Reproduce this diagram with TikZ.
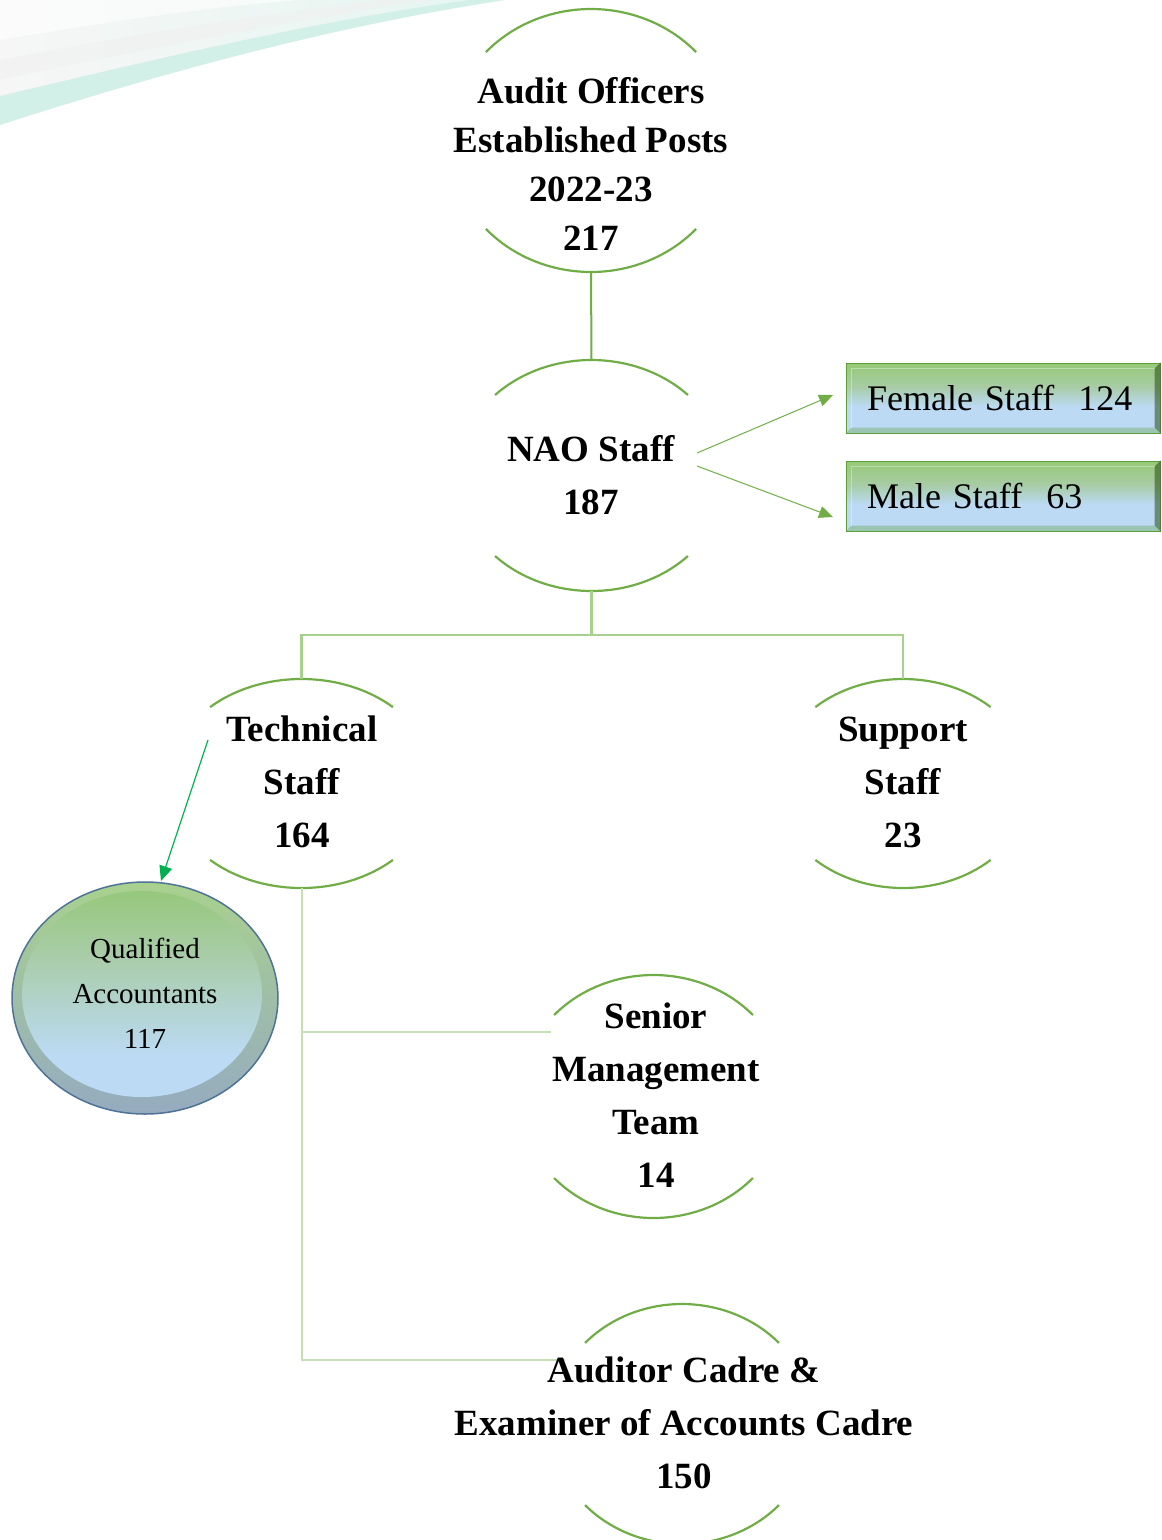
\documentclass[tikz,border=0pt]{standalone}
\usepackage{fontspec}
\setmainfont{Liberation Serif}
\usetikzlibrary{shapes.geometric,arrows.meta}
\definecolor{arcgreen}{HTML}{70AD47}
\definecolor{treegreen}{HTML}{A9D18E}
\definecolor{palegreen}{HTML}{C5E0B4}
\definecolor{arrowgreen}{HTML}{00B050}
\definecolor{boxtop}{HTML}{7DBF4E}
\definecolor{boxmid}{HTML}{A8CCA6}
\definecolor{boxbot}{HTML}{BCDAF4}
\definecolor{boxedge}{HTML}{5E9E3A}
\definecolor{qaedge}{HTML}{4F7396}
\definecolor{mint}{HTML}{D3F0E8}
\pgfdeclareverticalshading{boxshade}{100bp}{color(0bp)=(boxtop!80!boxbot); color(8bp)=(boxbot); color(44bp)=(boxbot); color(58bp)=(boxmid); color(80bp)=(boxtop!85!white); color(100bp)=(boxtop)}
\pgfdeclareverticalshading{qashade}{100bp}{color(0bp)=(boxbot); color(35bp)=(boxbot); color(60bp)=(boxmid); color(85bp)=(boxtop!90!white); color(100bp)=(boxtop)}
\newcommand\ovalarcs[4]{%
  \draw[arcline] (#1.center) ++(#4:#2 and #3) arc[start angle=#4, end angle=180-#4, x radius=#2, y radius=#3];
  \draw[arcline] (#1.center) ++(180+#4:#2 and #3) arc[start angle=180+#4, end angle=360-#4, x radius=#2, y radius=#3];}
\begin{document}
\begin{tikzpicture}[x=1pt,y=1pt,
  oval/.style={ellipse, inner sep=0pt, draw=none},
  arcline/.style={draw=arcgreen, line width=2.2pt},
  treeline/.style={draw=treegreen, line width=2.5pt},
  paleline/.style={draw=palegreen, line width=2pt},
  ttl/.style={font=\fontsize{37}{53}\selectfont\bfseries, align=center, inner sep=0pt},
  sbox/.style={rectangle, minimum width=314pt, minimum height=70pt, text width=272pt, align=left,
    inner xsep=21pt, inner ysep=0pt, font=\fontsize{36}{44}\selectfont, draw=boxedge, line width=1pt,
    shading=boxshade},
  garrow/.style={draw=arcgreen, line width=1pt, -{Triangle[length=14pt,width=12pt]}, arcgreen}
]
\useasboundingbox (0,0) rectangle (1162,-1540);
% decorative swoosh
\shade[left color=gray!7, right color=mint!60] (0,-125) .. controls (170,-70) and (340,-25) .. (505,0) -- (0,0) -- cycle;
\fill[mint] (0,-125) .. controls (170,-70) and (340,-25) .. (505,0) -- (470,0) .. controls (320,-20) and (160,-58) .. (0,-96) -- cycle;
\fill[gray!12, opacity=0.6] (0,-80) .. controls (160,-45) and (300,-20) .. (430,0) -- (380,0) .. controls (260,-15) and (130,-35) .. (0,-60) -- cycle;
\fill[white, opacity=0.6] (0,-40) .. controls (120,-20) and (200,-8) .. (300,0) -- (0,0) -- cycle;

% oval frames
\node[oval, minimum width=284pt, minimum height=263pt] (audit) at (591,-140.5) {};
\node[oval, minimum width=269pt, minimum height=231pt] (nao) at (591.5,-475.5) {};
\node[oval, minimum width=268pt, minimum height=209pt] (tech) at (301.5,-783.5) {};
\node[oval, minimum width=257pt, minimum height=209pt] (support) at (903,-783.5) {};
\node[oval, minimum width=268pt, minimum height=243pt] (senior) at (653.5,-1096.5) {};
\node[oval, minimum width=263pt, minimum height=240pt] (cadre) at (682,-1424) {};
\ovalarcs{audit}{142}{131.5}{42.3}
\ovalarcs{nao}{134.5}{115.5}{44.2}
\ovalarcs{tech}{134}{104.5}{47}
\ovalarcs{support}{128.5}{104.5}{47}
\ovalarcs{senior}{134}{121.5}{42.1}
\ovalarcs{cadre}{131.5}{120}{42.5}

% connectors
\coordinate (nj) at (591.5,-635);
\coordinate (sj) at (551,-1032);
\coordinate (cj) at (301.5,-1360);
\coordinate (cend) at (565,-1360);
\draw[arcline, line width=2pt] (audit.south) -- (nao.north);
\draw[treeline] (nao.south) -- (nj);
\draw[treeline] (tech.north) |- (nj) -| (support.north);
\draw[paleline] (tech.south) -- (cj) -- (cend);
\draw[paleline] (tech.south |- sj) -- (sj);

% texts
\node[ttl, font=\fontsize{37}{49}\selectfont\bfseries] (auditT) at (591,-164) {Audit Officers\\Established Posts\\2022-23\\217};
\node[ttl] (naoT) at (591,-475) {NAO Staff\\187};
\node[ttl] (techT) at (302,-782) {Technical\\Staff\\164};
\node[ttl] (supportT) at (903,-782) {Support\\Staff\\23};
\node[ttl] (seniorT) at (656,-1095) {Senior\\Management\\Team\\14};
\node[ttl] (cadreT) at (684,-1423) {Auditor Cadre \&\\Examiner of Accounts Cadre\\150};

% gender boxes
\node[sbox] (female) at (1003,-398) {Female Staff\ \ 124};
\node[sbox] (male) at (1003,-496) {Male Staff\ \ 63};
\foreach \b in {female,male}{
  \fill[black!55!boxedge, opacity=0.55] (\b.north east) -- (\b.south east) -- ([shift={(-6,6)}]\b.south east) -- ([shift={(-6,-6)}]\b.north east) -- cycle;
  \fill[boxedge, opacity=0.35] (\b.south west) -- (\b.south east) -- ([shift={(-6,6)}]\b.south east) -- ([shift={(6,6)}]\b.south west) -- cycle;
  \draw[white, opacity=0.35, line width=0.8pt] ([shift={(6,6)}]\b.south west) |- ([shift={(-6,-6)}]\b.north east);
}
\coordinate (fs) at (697,-453);
\coordinate (ms) at (697,-466);
\coordinate (fe) at (833,-395);
\coordinate (me) at (833,-517);
\draw[garrow] (fs) -- (fe);
\draw[garrow] (ms) -- (me);

% qualified accountants
\node[oval, minimum width=266pt, minimum height=232pt, draw=qaedge, line width=1.5pt,
  top color=treegreen, bottom color=qaedge!60] (qa) at (145,-998) {};
\node[oval, minimum width=240pt, minimum height=206pt, shading=qashade] (qain) at (142,-994) {};
\node[inner sep=0pt, align=center, font=\fontsize{29}{45}\selectfont] (qaT) at (145,-993) {Qualified\\Accountants\\117};
\coordinate (ts) at (208,-740);
\coordinate (qe) at (161,-881);
\draw[draw=arrowgreen, line width=1.2pt, -{Triangle[length=15pt,width=13pt]}, arrowgreen] (ts) -- (qe);
\end{tikzpicture}
\end{document}
